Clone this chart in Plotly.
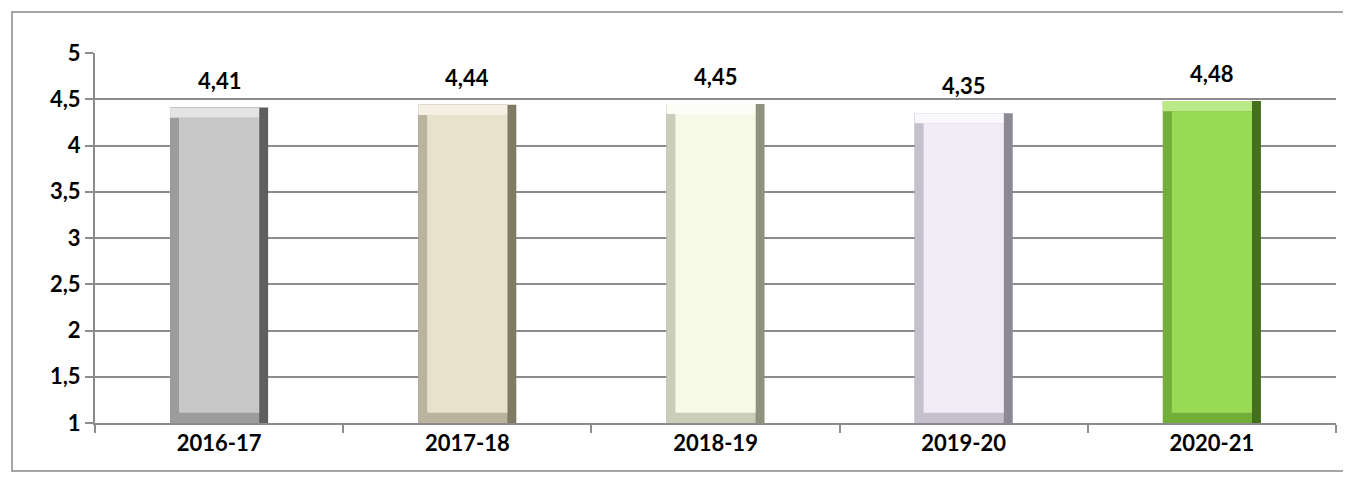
import plotly.graph_objects as go

categories = ["2016-17", "2017-18", "2018-19", "2019-20", "2020-21"]
values = [4.41, 4.44, 4.45, 4.35, 4.48]
face_colors = ["#C8C8C8", "#E8E2CC", "#F5F9E6", "#F0ECF6", "#99DA55"]
shadow_colors = ["#5E5E5E", "#7F7A64", "#8E927E", "#8C8894", "#44701C"]
mid_colors = ["#9C9C9C", "#BAB49E", "#C9CDB9", "#C5C1CC", "#72AE38"]
highlight_colors = ["#E4E4E4", "#F4F0E2", "#FCFEF5", "#FAF8FD", "#BAEA88"]
y_ticks = [1, 1.5, 2, 2.5, 3, 3.5, 4, 4.5, 5]

BASE = 1.0
BAR_W = 0.395
EDGE_X = 0.036
EDGE_Y = 0.11
FONT = "Lato"
GRID = "#8C8C8C"

fig = go.Figure()

def add_layer(y, base, width, offset, colors):
    fig.add_trace(go.Bar(
        x=categories, y=y, base=base, width=width, offset=offset,
        marker=dict(color=colors, line=dict(width=0)),
        hoverinfo="skip", showlegend=False,
    ))

# right edge shadow (full bar)
add_layer([v - BASE for v in values], BASE, BAR_W, None, shadow_colors)
# left + bottom edges
add_layer([v - BASE for v in values], BASE, BAR_W - EDGE_X, -BAR_W / 2, mid_colors)
# top bevel highlight
add_layer([EDGE_Y] * len(values), [v - EDGE_Y for v in values],
          BAR_W - EDGE_X, -BAR_W / 2, highlight_colors)
# face
add_layer([v - BASE - 2 * EDGE_Y for v in values], BASE + EDGE_Y,
          BAR_W - 2 * EDGE_X, None, face_colors)

for c, v in zip(categories, values):
    fig.add_annotation(
        x=c, y=v, xref="x", yref="y",
        text=f"{v:.2f}".replace(".", ","),
        showarrow=False, yanchor="bottom", yshift=12,
        font=dict(family=FONT, size=22, color="#000000", weight="bold"),
    )

# outer frame
fig.add_shape(type="rect", xref="paper", yref="paper",
              x0=-0.0669, x1=1.03, y0=-0.130, y1=1.111,
              line=dict(color="#A6A6A6", width=2), layer="below")

fig.update_layout(
    width=1351, height=479,
    margin=dict(l=87, r=23, t=45, b=64),
    paper_bgcolor="#FFFFFF", plot_bgcolor="#FFFFFF",
    barmode="overlay",
    showlegend=False,
    font=dict(family=FONT, size=22, color="#000000"),
    xaxis=dict(
        type="category", range=[-0.5, 4.5],
        showline=True, linecolor=GRID, linewidth=2,
        ticks="outside", tickson="boundaries", ticklen=8, tickcolor=GRID, tickwidth=2,
        tickfont=dict(family=FONT, size=22, color="#000000", weight="bold"),
        showgrid=False, zeroline=False,
    ),
    yaxis=dict(
        range=[1, 5], tickvals=y_ticks,
        ticktext=[f"{t:g}".replace(".", ",") for t in y_ticks],
        showline=True, linecolor=GRID, linewidth=2,
        ticks="outside", ticklen=8, tickcolor=GRID, tickwidth=2,
        showgrid=True, gridcolor=GRID, gridwidth=2,
        zeroline=False,
        tickfont=dict(family=FONT, size=22, color="#000000", weight="bold"),
    ),
)

fig.write_html("out.html")
